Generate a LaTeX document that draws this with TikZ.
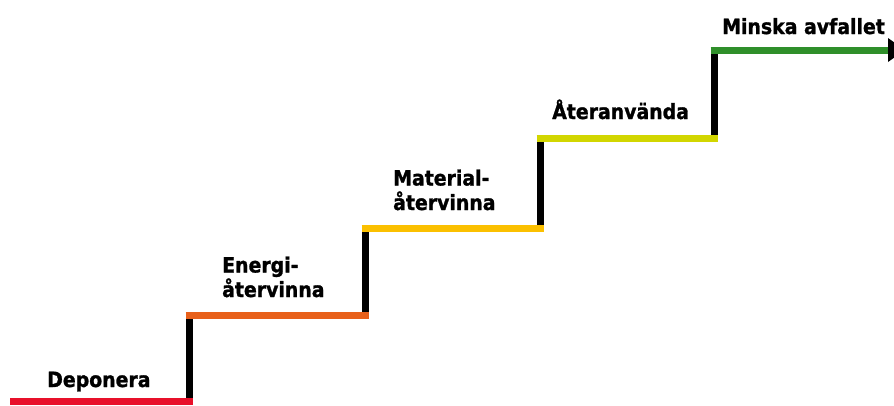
\documentclass[tikz,border=0pt]{standalone}
\usepackage{fontspec}
\setmainfont{DejaVu Sans}
\newfontfamily\lblfont{DejaVu Sans Condensed}[BoldFeatures={FakeBold=1.2}]
\definecolor{cRed}{HTML}{E8102A}
\definecolor{cOrange}{HTML}{E8601A}
\definecolor{cYellow}{HTML}{FBC000}
\definecolor{cLime}{HTML}{D2D600}
\definecolor{cGreen}{HTML}{2F8F2A}
\begin{document}
\begin{tikzpicture}[x=1pt,y=-1pt,
  riser/.style={line width=7pt,black},
  tread/.style={line width=7pt},
  lbl/.style={anchor=base west,inner sep=0pt,align=left,
    font=\lblfont\bfseries\fontsize{21}{24.5}\selectfont}]
\useasboundingbox (0,0) rectangle (894,405);
% corner coordinates
\coordinate (s0) at (10,401);
\coordinate (a1) at (189,401);
\coordinate (b1) at (189,315);
\coordinate (a2) at (365,315);
\coordinate (b2) at (365,228);
\coordinate (a3) at (540,228);
\coordinate (b3) at (540,138);
\coordinate (a4) at (714,138);
\coordinate (b4) at (714,50);
\coordinate (e4) at (888,50);
% risers
\draw[riser] (a1) -- (b1);
\draw[riser] (a2) -- (b2);
\draw[riser] (a3) -- (b3);
\draw[riser] (a4) -- (b4);
% treads
\draw[tread,cRed] (s0) -- ([xshift=3.5pt]a1);
\draw[tread,cOrange] ([xshift=-3.5pt]b1) -- ([xshift=3.5pt]a2);
\draw[tread,cYellow] ([xshift=-3.5pt]b2) -- ([xshift=3.5pt]a3);
\draw[tread,cLime] ([xshift=-3.5pt]b3) -- ([xshift=3.5pt]a4);
\draw[tread,cGreen] ([xshift=-3.5pt]b4) -- (e4);
\fill[black] ([yshift=-12pt]e4) -- ([yshift=12pt]e4) -- ([xshift=17pt]e4) -- cycle;
% labels
\node[lbl] (t0) at (47,387) {Deponera};
\node[lbl] (t1) at (222,297) {Energi-\\återvinna};
\node[lbl] (t2) at (393,210) {Material-\\återvinna};
\node[lbl] (t3) at (552,119) {Återanvända};
\node[lbl] (t4) at (722,34) {Minska avfallet};
\end{tikzpicture}
\end{document}
